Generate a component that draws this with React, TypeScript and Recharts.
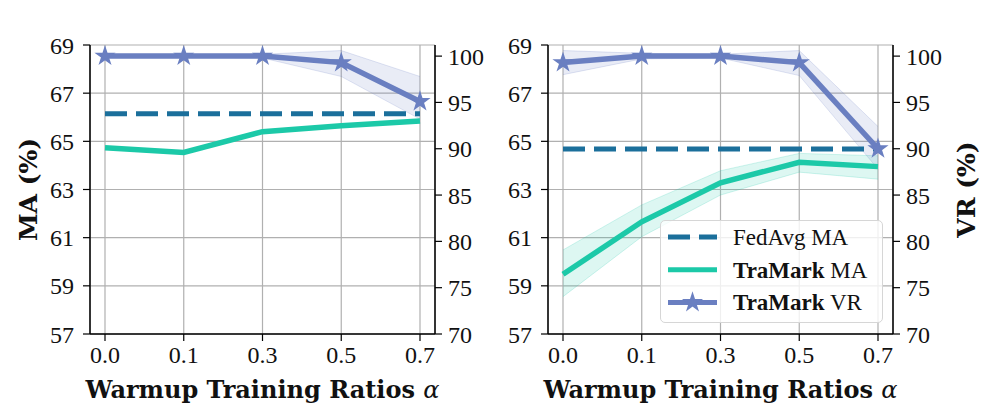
import React from 'react';
import { ComposedChart, Line, Area, XAxis, YAxis, CartesianGrid, Legend, Label, Symbols } from 'recharts';

// x categories (warmup training ratio alpha)
const alphas = ['0.0', '0.1', '0.3', '0.5', '0.7'];
const maTicks = [57, 59, 61, 63, 65, 67, 69];
const vrTicks = [70, 75, 80, 85, 90, 95, 100];

// IID panel
const iidFedAvg = [66.15, 66.15, 66.15, 66.15, 66.15];
const iidMa = [64.73, 64.54, 65.4, 65.65, 65.84];
const iidMaLow = [64.68, 64.49, 65.34, 65.59, 65.78];
const iidMaHigh = [64.78, 64.59, 65.46, 65.71, 65.9];
const iidVr = [100, 100, 100, 99.3, 95.1];
const iidVrLow = [99.9, 99.9, 99.8, 97.8, 93.2];
const iidVrHigh = [100.1, 100.1, 100.2, 100.6, 97.8];

// non-IID panel
const nonIidFedAvg = [64.68, 64.68, 64.68, 64.68, 64.68];
const nonIidMa = [59.48, 61.66, 63.28, 64.13, 63.95];
const nonIidMaLow = [58.55, 61.04, 62.77, 63.72, 63.43];
const nonIidMaHigh = [60.49, 62.36, 63.78, 64.5, 64.4];
const nonIidVr = [99.3, 100, 100, 99.3, 90.0];
const nonIidVrLow = [98.0, 99.7, 99.8, 97.9, 87.8];
const nonIidVrHigh = [100.6, 100.3, 100.2, 100.6, 92.4];

const legendItems = [
  { bold: '', rest: 'FedAvg MA', kind: 'dash' },
  { bold: 'TraMark', rest: ' MA', kind: 'ma' },
  { bold: 'TraMark', rest: ' VR', kind: 'vr' },
];

const SERIF = '"Liberation Serif", "Times New Roman", serif';
const BOLD_SERIF = '"DejaVu Serif", serif';
const BLUE = '#6a7fc1';
const TEAL = '#1cc9a8';
const DARK = '#1b6f9b';
const GRID = '#b0b0b0';

function buildRows(fed: number[], ma: number[], maLo: number[], maHi: number[], vr: number[], vrLo: number[], vrHi: number[]) {
  return alphas.map((a, i) => ({
    alpha: a,
    fedAvg: fed[i],
    ma: ma[i],
    maBand: [maLo[i], maHi[i]],
    vr: vr[i],
    vrBand: [vrLo[i], vrHi[i]],
  }));
}

const iidRows = buildRows(iidFedAvg, iidMa, iidMaLow, iidMaHigh, iidVr, iidVrLow, iidVrHigh);
const nonIidRows = buildRows(nonIidFedAvg, nonIidMa, nonIidMaLow, nonIidMaHigh, nonIidVr, nonIidVrLow, nonIidVrHigh);

const StarDot = (props: any) => {
  const { cx, cy, index } = props;
  if (cx == null || cy == null) return null;
  return <Symbols key={`star-${index}`} cx={cx} cy={cy} type="star" size={85} fill={BLUE} stroke={BLUE} strokeWidth={1.5} />;
};

const LegendBox = () => (
  <div
    style={{
      width: 223,
      height: 103,
      boxSizing: 'border-box',
      background: 'rgba(255,255,255,0.8)',
      border: '1.5px solid #d6d6d6',
      borderRadius: 5,
    }}
  >
    <svg width={220} height={100} style={{ display: 'block' }}>
      {legendItems.map((it, i) => {
        const y = 16 + i * 32.7;
        return (
          <g key={it.rest + i}>
            {it.kind === 'dash' && <line x1={7} x2={56} y1={y} y2={y} stroke={DARK} strokeWidth={5} strokeDasharray="22 9" />}
            {it.kind === 'ma' && <line x1={7} x2={56} y1={y} y2={y} stroke={TEAL} strokeWidth={5} />}
            {it.kind === 'vr' && (
              <g>
                <line x1={7} x2={56} y1={y} y2={y} stroke={BLUE} strokeWidth={5} />
                <Symbols cx={31.5} cy={y} type="star" size={85} fill={BLUE} stroke={BLUE} strokeWidth={1.5} />
              </g>
            )}
            <text x={72} y={y} dominantBaseline="central" fontFamily={SERIF} fontSize={23} fill="#111">
              {it.bold && <tspan fontWeight="bold">{it.bold}</tspan>}
              <tspan>{it.rest}</tspan>
            </text>
          </g>
        );
      })}
    </svg>
  </div>
);

interface PanelProps {
  title: string;
  rows: ReturnType<typeof buildRows>;
  margin: { top: number; right: number; bottom: number; left: number };
  leftWidth: number;
  rightWidth: number;
  leftLabel?: boolean;
  rightLabel?: boolean;
  legend?: boolean;
}

function Panel({ title, rows, margin, leftWidth, rightWidth, leftLabel, rightLabel, legend }: PanelProps) {
  const tickStyle = { fill: '#111', fontSize: 24, fontFamily: SERIF };
  return (
    <ComposedChart width={498} height={419} data={rows} margin={margin}>
      <CartesianGrid xAxisId="x" yAxisId="ma" stroke={GRID} strokeWidth={1.2} />
      <XAxis
        xAxisId="x"
        dataKey="alpha"
        padding={{ left: 15, right: 15 }}
        height={60}
        tick={tickStyle}
        tickSize={7}
        tickMargin={5}
        stroke="#000"
        axisLine={{ stroke: '#000', strokeWidth: 1.5 }}
        tickLine={{ stroke: '#000', strokeWidth: 1.2 }}
        interval={0}
      >
        <Label
          content={(p: any) => {
            const vb = p.viewBox;
            return (
              <text x={vb.x + vb.width / 2} y={vb.y + 64} textAnchor="middle" fontFamily={BOLD_SERIF} fontWeight="bold" fontSize={24} fill="#111">
                Warmup Training Ratios <tspan fontWeight="normal" fontStyle="italic">α</tspan>
              </text>
            );
          }}
        />
      </XAxis>
      <XAxis
        xAxisId="top"
        dataKey="alpha"
        orientation="top"
        height={0}
        tick={false}
        tickLine={false}
        axisLine={{ stroke: '#000', strokeWidth: 1.5 }}
      >
        <Label
          content={(p: any) => {
            const vb = p.viewBox;
            return (
              <text x={vb.x + vb.width / 2} y={33} textAnchor="middle" fontFamily={BOLD_SERIF} fontWeight="bold" fontSize={24} fill="#111">
                {title}
              </text>
            );
          }}
        />
      </XAxis>
      <YAxis
        yAxisId="ma"
        width={leftWidth}
        domain={[57, 69]}
        ticks={maTicks}
        interval={0}
        tick={tickStyle}
        tickSize={7}
        tickMargin={9}
        axisLine={{ stroke: '#000', strokeWidth: 1.5 }}
        tickLine={{ stroke: '#000', strokeWidth: 1.2 }}
      >
        {leftLabel && (
          <Label
            content={(p: any) => {
              const vb = p.viewBox;
              const cx = vb.x + vb.width - 62;
              const cy = vb.y + vb.height / 2;
              return (
                <text x={cx} y={cy} transform={`rotate(-90 ${cx} ${cy})`} textAnchor="middle" dominantBaseline="central" fontFamily={BOLD_SERIF} fontWeight="bold" fontSize={25} fill="#111">
                  MA (%)
                </text>
              );
            }}
          />
        )}
      </YAxis>
      <YAxis
        yAxisId="vr"
        orientation="right"
        width={rightWidth}
        domain={[70, 101.2]}
        ticks={vrTicks}
        interval={0}
        tick={tickStyle}
        tickSize={7}
        tickMargin={6}
        axisLine={{ stroke: '#000', strokeWidth: 1.5 }}
        tickLine={{ stroke: '#000', strokeWidth: 1.2 }}
      >
        {rightLabel && (
          <Label
            content={(p: any) => {
              const vb = p.viewBox;
              const cx = vb.x + 73;
              const cy = vb.y + vb.height / 2;
              return (
                <text x={cx} y={cy} transform={`rotate(-90 ${cx} ${cy})`} textAnchor="middle" dominantBaseline="central" fontFamily={BOLD_SERIF} fontWeight="bold" fontSize={25} fill="#111">
                  VR (%)
                </text>
              );
            }}
          />
        )}
      </YAxis>
      <Area xAxisId="x" yAxisId="ma" dataKey="maBand" fill={TEAL} fillOpacity={0.15} stroke={TEAL} strokeOpacity={0.2} strokeWidth={1} isAnimationActive={false} legendType="none" />
      <Area xAxisId="x" yAxisId="vr" dataKey="vrBand" fill={BLUE} fillOpacity={0.15} stroke={BLUE} strokeOpacity={0.2} strokeWidth={1} isAnimationActive={false} legendType="none" />
      <Line xAxisId="x" yAxisId="ma" dataKey="fedAvg" stroke={DARK} strokeWidth={5} strokeDasharray="22 9" dot={false} activeDot={false} isAnimationActive={false} />
      <Line xAxisId="x" yAxisId="ma" dataKey="ma" stroke={TEAL} strokeWidth={5.5} dot={false} activeDot={false} isAnimationActive={false} />
      <Line xAxisId="x" yAxisId="vr" dataKey="vr" stroke={BLUE} strokeWidth={5.5} dot={StarDot} activeDot={false} isAnimationActive={false} />
      {legend && (
        <Legend
          layout="horizontal"
          verticalAlign="middle"
          align="center"
          content={() => <LegendBox />}
          wrapperStyle={{ position: 'absolute', left: 162, top: 220, width: 223, height: 103 }}
        />
      )}
    </ComposedChart>
  );
}

export default function App() {
  return (
    <div style={{ position: 'relative', width: 996, height: 419, background: '#fff' }}>
      <style>{'body{margin:0}'}</style>
      <div style={{ position: 'absolute', left: 0, top: 0 }}>
        <Panel title="IID" rows={iidRows} margin={{ top: 45, right: 13, bottom: 25, left: 30 }} leftWidth={60} rightWidth={50} leftLabel />
      </div>
      <div style={{ position: 'absolute', left: 498, top: 0 }}>
        <Panel title="non-IID" rows={nonIidRows} margin={{ top: 45, right: 53, bottom: 25, left: 10 }} leftWidth={40} rightWidth={50} rightLabel legend />
      </div>
    </div>
  );
}
